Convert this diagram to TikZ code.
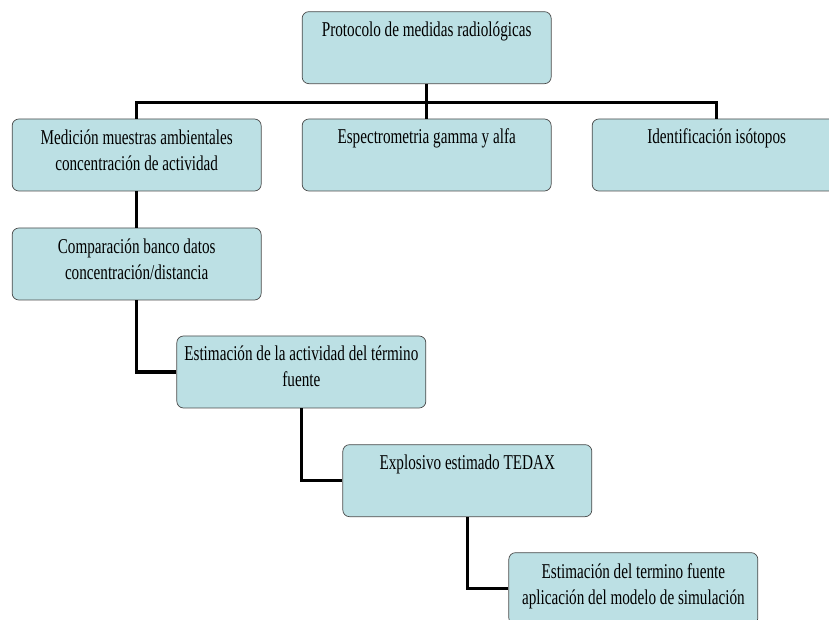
\documentclass[tikz,border=0pt]{standalone}
\usepackage{fontspec}
\usepackage{graphicx}
\setmainfont{Liberation Serif}
\definecolor{boxfill}{HTML}{BCE0E4}
\definecolor{boxline}{HTML}{4A4A4A}
% narrow text, one or more centred lines
\newcommand{\narrow}[1]{\scalebox{0.72}[1]{\begin{tabular}[t]{@{}c@{}}#1\end{tabular}}}

\begin{document}
\begin{tikzpicture} [block/.style={rectangle, draw=boxline, line width=0.6pt, fill=boxfill, rounded corners=0.2cm, minimum width=7.47cm, minimum height=2.16cm, inner xsep=0.05cm, inner ysep=0.1cm}, single/.style={text height=0.64cm, text depth=1.32cm}, double/.style={text height=0.68cm, text depth=1.28cm}, link/.style={line width=2.6pt}]
{\fontsize{18}{22}\selectfont
	\useasboundingbox (0,0) rectangle (24.87,-18.6);
	\node [block, single] (protocolo) at (12.8,-1.43) {\narrow{Protocolo de medidas radiológicas}};
	\node [block, single, below of=protocolo, node distance=3.22cm] (espectro) {\narrow{Espectrometria gamma y alfa}};
	\node [block, double, left of=espectro, node distance=8.7cm] (medicion) {\narrow{Medición muestras ambientales\\ concentración de actividad}};
	\node [block, single, right of=espectro, node distance=8.7cm] (isotopos) {\narrow{Identificación isótopos}};
	\node [block, double, below of=medicion, node distance=3.27cm] (comparacion) {\narrow{Comparación banco datos\\ concentración/distancia}};
	\node [block, single, below of=comparacion, xshift=4.94cm, node distance=3.24cm] (estimacion) {\narrow{Estimación de la actividad del término\\ fuente}};
	\node [block, single, below of=estimacion, xshift=4.98cm, node distance=3.26cm] (explosivo) {\narrow{Explosivo estimado TEDAX}};
	\node [block, double, below of=explosivo, xshift=4.98cm, node distance=3.24cm] (simulacion) {\narrow{Estimación del termino fuente\\ aplicación del modelo de simulación}};

	% draw edges
	\coordinate (bus) at (0,-3.08);
	\draw [link] (protocolo.south) -- (espectro.north);
	\draw [link] (medicion.north) -- (medicion.north |- bus) -| (isotopos.north);
	\draw [link] (medicion) -- (comparacion);
	\draw [link] (comparacion.south) |- (estimacion.west);
	\draw [link] (estimacion.south) |- (explosivo.west);
	\draw [link] (explosivo.south) |- (simulacion.west);
}
\end{tikzpicture}
\end{document}
